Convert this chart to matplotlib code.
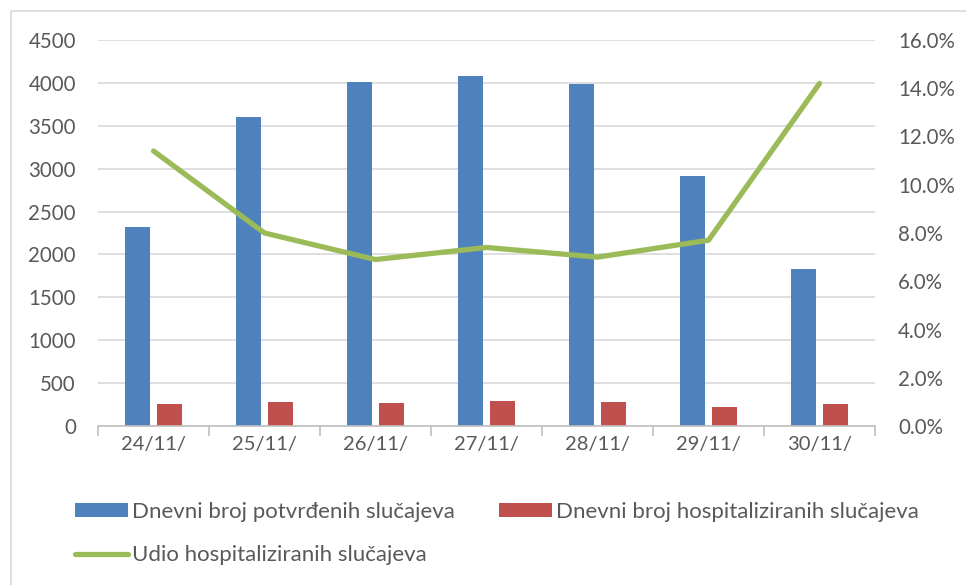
import numpy as np
import matplotlib.pyplot as plt
from matplotlib.patches import Rectangle
from matplotlib.ticker import FixedLocator, PercentFormatter

plt.rcParams['font.family'] = ['Lato', 'DejaVu Sans']

dates = ['24/11/', '25/11/', '26/11/', '27/11/', '28/11/', '29/11/', '30/11/']
potvrdeni = [2320, 3600, 4010, 4080, 3985, 2915, 1825]
hospitalizirani = [255, 278, 270, 293, 275, 217, 255]
udio = [11.4, 8.0, 6.9, 7.4, 7.0, 7.7, 14.2]

blue = '#4f81bd'
red = '#c0504d'
green = '#9bbb59'
txt = '#595959'
grid = '#d9d9d9'

fig = plt.figure(figsize=(9.66, 5.85), dpi=100)
fig.patches.append(Rectangle((11 / 966, -0.1), 1.2, 1 - 11 / 585 + 0.1, transform=fig.transFigure,
                             fill=False, edgecolor=grid, linewidth=1.2))
ax = fig.add_axes([98 / 966, 1 - 426 / 585, (875 - 98) / 966, (426 - 40) / 585])

x = np.arange(len(dates))
w = 0.225
b1 = ax.bar(x - 0.143, potvrdeni, w, color=blue, zorder=2, label='Dnevni broj potvrđenih slučajeva')
b2 = ax.bar(x + 0.14, hospitalizirani, w, color=red, zorder=2, label='Dnevni broj hospitaliziranih slučajeva')

ax.set_xlim(-0.5, len(dates) - 0.5)
ax.set_ylim(0, 4500)
ax.set_yticks(range(0, 4501, 500))
ax.yaxis.grid(True, color=grid, linewidth=1.2, zorder=0)
ax.set_axisbelow(True)
ax.set_xticks(x)
ax.set_xticklabels(dates)
ax.xaxis.set_minor_locator(FixedLocator(np.arange(-0.5, len(dates), 1.0)))
ax.tick_params(axis='x', which='major', length=0, pad=7, labelsize=14.5, labelcolor=txt)
ax.tick_params(axis='x', which='minor', length=7, color='#bfbfbf', width=1.2)
ax.tick_params(axis='y', length=0, pad=16, labelsize=14.8, labelcolor=txt)
for s in ['top', 'left', 'right']:
    ax.spines[s].set_visible(False)
ax.spines['bottom'].set_color('#bfbfbf')
ax.spines['bottom'].set_linewidth(1.2)

ax2 = ax.twinx()
l1, = ax2.plot(x, udio, color=green, linewidth=3.8, solid_capstyle='round', zorder=3,
               label='Udio hospitaliziranih slučajeva')
ax2.set_ylim(0, 16)
ax2.set_yticks(range(0, 17, 2))
ax2.yaxis.set_major_formatter(PercentFormatter(decimals=1))
ax2.tick_params(axis='y', length=0, pad=16.5, labelsize=14.8, labelcolor=txt)
for s in ax2.spines.values():
    s.set_visible(False)

leg = fig.legend([b1, l1, b2], [b1.get_label(), l1.get_label(), b2.get_label()],
                 ncol=2, loc='upper left', bbox_to_anchor=(75 / 966, 1 - 502 / 585),
                 frameon=False, fontsize=16, borderpad=0, borderaxespad=0,
                 handlelength=2.4, handleheight=0.63,
                 handletextpad=0.15, columnspacing=2.0, labelspacing=1.05, labelcolor=txt)

fig.savefig('out.png', dpi=100)
